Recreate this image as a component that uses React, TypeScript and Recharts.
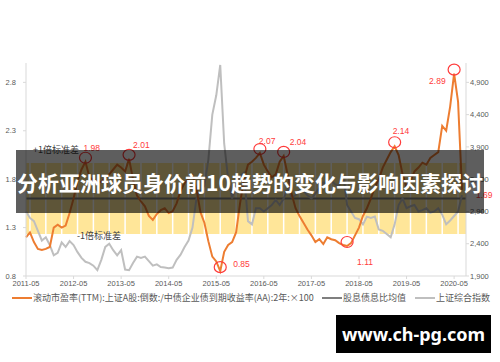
import React from "react";
import {
  ComposedChart,
  Line,
  XAxis,
  YAxis,
  ReferenceArea,
  ReferenceLine,
  ReferenceDot
} from "recharts";

// x tick labels, one per year (every 12 months from 2011-05)
const xTickLabels = [
  "2011-05", "2012-05", "2013-05", "2014-05", "2015-05",
  "2016-05", "2017-05", "2018-05", "2019-05", "2020-05"
];

// 股债性价比 (left axis), monthly from 2011-05 to 2020-07
const ratio = [
  1.20, 1.25, 1.15, 1.08, 1.07, 1.08, 1.10, 1.30, 1.33, 1.30,
  1.32, 1.45, 1.60, 1.78, 1.90, 1.98, 1.82, 1.79, 1.78, 1.77,
  1.82, 1.85, 1.90, 1.95, 1.92, 1.88, 2.01, 1.80, 1.63, 1.57,
  1.52, 1.42, 1.38, 1.44, 1.48, 1.50, 1.45, 1.47, 1.55, 1.68,
  1.76, 1.80, 1.84, 1.70, 1.46, 1.35, 1.16, 1.00, 0.95, 0.85,
  1.05, 1.12, 1.15, 1.25, 1.55, 1.80, 1.95, 1.98, 2.02, 2.07,
  1.95, 1.88, 1.82, 1.85, 1.98, 2.04, 1.85, 1.65, 1.50, 1.42,
  1.35, 1.28, 1.22, 1.15, 1.18, 1.13, 1.20, 1.18, 1.17, 1.14,
  1.12, 1.11, 1.14, 1.22, 1.30, 1.42, 1.50, 1.60, 1.72, 1.80,
  1.92, 2.00, 2.08, 2.14, 2.05, 1.85, 1.72, 1.78, 1.88, 1.92,
  1.97, 1.95, 2.02, 2.05, 2.08, 2.35, 2.30, 2.55, 2.89, 2.60,
  1.69
];

// 上证综合指数 (right axis), same months
const sse = [
  2900, 2800, 2750, 2600, 2450, 2500, 2380, 2220, 2260, 2420,
  2350, 2440, 2380, 2270, 2180, 2120, 2100, 2060, 1990, 2150,
  2350, 2400, 2300, 2220, 2300, 2000, 1990, 2100, 2200, 2180,
  2200, 2130, 2060, 2080, 2040, 2030, 2020, 2030, 2150, 2230,
  2350, 2450, 2650, 3100, 3200, 3300, 3700, 4400, 4700, 5170,
  3950, 3400, 3100, 3350, 3450, 3500, 2750, 2700, 2950, 2950,
  2900, 2950, 3000, 3080, 3000, 3100, 3250, 3120, 3150, 3230,
  3220, 3150, 3100, 3180, 3260, 3350, 3340, 3380, 3320, 3300,
  3480, 3000, 2900, 2800, 2780, 2700, 2820, 2800, 2820, 2620,
  2600, 2550, 2500, 2700, 3000, 3100, 2950, 2980, 3000, 2900,
  2920, 2950, 2880, 2900, 2950, 2850, 2700, 2760, 2830, 2900,
  3150
];

const meanValue = 1.6;
const plusOneStd = 1.966;
const minusOneStd = 1.234;

const leftTicks = [0.8, 1.3, 1.8, 2.3, 2.8];
const rightTicks = [1900, 2400, 2900, 3400, 3900, 4400, 4900];

// marked extremes: month index + printed label
const marks = [
  { m: 15, text: "1.98" },
  { m: 26, text: "2.01" },
  { m: 49, text: "0.85" },
  { m: 59, text: "2.07" },
  { m: 65, text: "2.04" },
  { m: 81, text: "1.11" },
  { m: 93, text: "2.14" },
  { m: 108, text: "2.89" }
];
const lastLabel = "1.69";

const chartData = ratio.map((r, i) => ({ m: i, ratio: r, sse: sse[i] }));
const xTicks = xTickLabels.map((_, i) => i * 12);
const bandSeparators = Array.from({ length: 28 }, (_, i) => 1 + i * 4);

// label offsets (px) relative to the marked point
const markOffsets: Record<string, [number, number]> = {
  "1.98": [-2, -11],
  "2.01": [4, -11],
  "0.85": [13, -4],
  "2.07": [-1, -9],
  "2.04": [6, -11],
  "1.11": [10, 19],
  "2.14": [-2, -12],
  "2.89": [-25, 10]
};

const ORANGE = "#ED7D31";
const LIGHT_GRAY = "#BFBFBF";
const DARK_GRAY = "#7F7F7F";
const RED = "#FF3B3B";
const AXIS = "#D9D9D9";
const TEXT = "#595959";
const tickStyle = { fontSize: 7.5, fill: TEXT, fontFamily: "Liberation Sans, Arial, sans-serif" };

// eslint-disable-next-line @typescript-eslint/no-explicit-any
const MarkShape = (props: any) => {
  const { cx, cy, text } = props;
  const [dx, dy] = markOffsets[text] || [0, 0];
  return (
    <g>
      <ellipse cx={cx} cy={cy - 4} rx={6} ry={5.5} fill="none" stroke={RED} strokeWidth={1.2} />
      <text x={cx + dx} y={cy + dy} fontSize={8.5} fill={RED} fontFamily="Liberation Sans, Arial, sans-serif">
        {text}
      </text>
    </g>
  );
};

// eslint-disable-next-line @typescript-eslint/no-explicit-any
const LastShape = (props: any) => (
  <text x={props.cx + 14} y={props.cy + 8} fontSize={8.5} fill={RED} fontFamily="Liberation Sans, Arial, sans-serif">
    {lastLabel}
  </text>
);

const cjk = '"Noto Sans CJK SC", "Noto Sans", sans-serif';

const LegendItem: React.FC<{ left: number; color: string; label: string }> = ({ left, color, label }) => (
  <div style={{ position: "absolute", left, top: 292, display: "flex", alignItems: "center", whiteSpace: "nowrap" }}>
    <span style={{ display: "inline-block", width: 20, height: 2, background: color, marginRight: 1 }} />
    <span style={{ fontSize: 9, color: TEXT, fontFamily: cjk, lineHeight: "12px" }}>{label}</span>
  </div>
);

export default function App() {
  return (
    <div style={{ position: "absolute", left: 0, top: 0, width: 500, height: 362, background: "#fff", overflow: "hidden" }}>
      <ComposedChart width={500} height={290} data={chartData} margin={{ top: 63, right: 0, bottom: 0, left: 0 }}>
        <XAxis
          dataKey="m"
          type="number"
          domain={[0, 111]}
          ticks={xTicks}
          interval={0}
          tickFormatter={(v: number) => xTickLabels[v / 12]}
          stroke={AXIS}
          tickSize={3}
          tickMargin={2}
          height={14}
          tick={tickStyle}
        />
        <YAxis
          yAxisId="left"
          domain={[0.8, 3.0]}
          ticks={leftTicks}
          interval={0}
          tickFormatter={(v: number) => v.toFixed(1)}
          width={26}
          stroke={AXIS}
          tickSize={3}
          tickMargin={7}
          tick={tickStyle}
        />
        <YAxis
          yAxisId="right"
          orientation="right"
          domain={[1900, 5200]}
          ticks={rightTicks}
          interval={0}
          tickFormatter={(v: number) => v.toLocaleString("en-US")}
          width={34}
          stroke={AXIS}
          tickSize={3}
          tickMargin={1}
          tick={tickStyle}
        />
        <ReferenceArea yAxisId="left" y1={minusOneStd} y2={plusOneStd} fill="#FFE699" fillOpacity={1} stroke="none" />
        {bandSeparators.map((m) => (
          <ReferenceLine
            key={m}
            yAxisId="left"
            segment={[{ x: m, y: minusOneStd }, { x: m, y: plusOneStd }]}
            stroke="#ffffff"
            strokeWidth={1.5}
          />
        ))}
        <ReferenceLine yAxisId="left" y={meanValue} stroke={DARK_GRAY} strokeWidth={2} />
        <Line yAxisId="right" dataKey="sse" stroke={LIGHT_GRAY} strokeWidth={2} dot={false} isAnimationActive={false} />
        <Line yAxisId="left" dataKey="ratio" stroke={ORANGE} strokeWidth={2} dot={false} isAnimationActive={false} />
        {marks.map((mk) => (
          <ReferenceDot
            key={mk.text}
            yAxisId="left"
            x={mk.m}
            y={ratio[mk.m]}
            r={6}
            shape={(p: any) => <MarkShape {...p} text={mk.text} />}
          />
        ))}
        <ReferenceDot
          yAxisId="left"
          x={ratio.length - 1}
          y={ratio[ratio.length - 1]}
          r={1}
          shape={(p: any) => <LastShape {...p} />}
        />
      </ComposedChart>

      <span style={{ position: "absolute", left: 33, top: 143, fontSize: 9, color: "#404040", fontFamily: cjk }}>+1倍标准差</span>
      <span style={{ position: "absolute", left: 77, top: 229, fontSize: 9, color: "#404040", fontFamily: cjk }}>-1倍标准差</span>

      <LegendItem left={12} color={ORANGE} label="滚动市盈率(TTM):上证A股:倒数:/中债企业债到期收益率(AA):2年:×100" />
      <LegendItem left={322} color={DARK_GRAY} label="股息债息比均值" />
      <LegendItem left={415} color={LIGHT_GRAY} label="上证综合指数" />

      <div
        style={{
          position: "absolute", left: 16, top: 150, width: 468, height: 63,
          background: "rgba(0,0,0,0.63)", display: "flex", alignItems: "center", justifyContent: "center"
        }}
      >
        <span style={{ color: "#fff", fontSize: 21, fontWeight: 700, fontFamily: cjk, whiteSpace: "nowrap" }}>
          分析亚洲球员身价前10趋势的变化与影响因素探讨
        </span>
      </div>

      <div
        style={{
          position: "absolute", left: 336, top: 315, width: 155, height: 38,
          background: "#000", display: "flex", alignItems: "center", justifyContent: "center"
        }}
      >
        <span style={{ color: "#fff", fontSize: 18, fontWeight: 700, fontFamily: '"Noto Sans", sans-serif' }}>
          www.ch-pg.com
        </span>
      </div>
    </div>
  );
}
